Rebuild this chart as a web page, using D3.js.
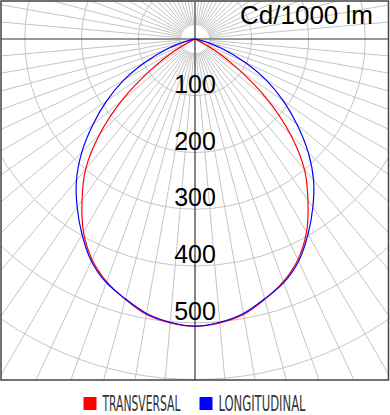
<!DOCTYPE html>
<html>
<head>
<meta charset="utf-8">
<script src="https://cdn.jsdelivr.net/npm/d3@7"></script>
<style>
  body { margin: 0; background: #fff; }
  svg { display: block; }
</style>
</head>
<body>
<div id="plot"></div>
<script>
// angles measured from the downward vertical, mirrored on both sides
const angles = [0, 5, 10, 15, 20, 25, 30, 35, 40, 45, 50, 55, 60, 65, 70, 75, 80, 85, 90];
const transversal = [506, 502, 493, 475, 455, 429, 393, 347, 300, 238, 168, 95, 40, 4, 1, 0, 0, 0, 0];
const longitudinal = [506, 501, 491, 474, 457, 432, 398, 362, 325, 282, 235, 190, 145, 97, 55, 20, 6, 2, 0];
const tickValues = [100, 200, 300, 400, 500];
const gridValues = [100, 200, 300, 400, 500, 600, 700];
const unitLabel = "Cd/1000 lm";
const seriesNames = ["TRANSVERSAL", "LONGITUDINAL"];
const seriesColors = ["#ff0000", "#0000ff"];

const W = 390, H = 415;
const frame = { left: 1, top: 1, right: 388.5, bottom: 380 };
const cx = 195, cy = 39;

const svg = d3.select("#plot")
  .append("svg")
  .attr("width", W)
  .attr("height", H);

svg.append("clipPath").attr("id", "frameClip")
  .append("rect")
  .attr("x", frame.left).attr("y", frame.top)
  .attr("width", frame.right - frame.left)
  .attr("height", frame.bottom - frame.top);

const r = d3.scaleLinear().domain([0, 600]).range([0, 340.5]);

const g = svg.append("g")
  .attr("clip-path", "url(#frameClip)")
  .append("g")
  .attr("transform", `translate(${cx},${cy})`);

// grid circles
g.selectAll(".ring").data(gridValues).enter()
  .append("circle")
  .attr("class", "ring")
  .attr("r", d => r(d))
  .attr("fill", "none")
  .attr("stroke", "#c4c4c4")
  .attr("stroke-width", 1);

// radial spokes every 5 degrees
const spokes = d3.range(0, 360, 5).filter(a => a % 90 !== 0);
g.selectAll(".spoke").data(spokes).enter()
  .append("line")
  .attr("class", "spoke")
  .attr("x1", a => 14 * Math.sin(a * Math.PI / 180))
  .attr("y1", a => 14 * Math.cos(a * Math.PI / 180))
  .attr("x2", a => r(800) * Math.sin(a * Math.PI / 180))
  .attr("y2", a => r(800) * Math.cos(a * Math.PI / 180))
  .attr("stroke", "#c4c4c4")
  .attr("stroke-width", 1);

// main axes
g.append("line")
  .attr("x1", -cx).attr("x2", W - cx).attr("y1", 0).attr("y2", 0)
  .attr("stroke", "#333").attr("stroke-width", 1.2);
g.append("line")
  .attr("x1", 0).attr("x2", 0).attr("y1", -cy).attr("y2", H)
  .attr("stroke", "#333").attr("stroke-width", 1.2);

// ring labels
g.selectAll(".tick").data(tickValues).enter()
  .append("text")
  .attr("class", "tick")
  .attr("x", 0)
  .attr("y", d => r(d) - 3)
  .attr("text-anchor", "middle")
  .attr("font-family", "Liberation Sans, Arial, sans-serif")
  .attr("font-size", 25)
  .attr("fill", "#000")
  .text(d => d);

// curves
function fullSeries(values) {
  const pts = [];
  for (let i = angles.length - 1; i > 0; i--) pts.push([-angles[i], values[i]]);
  for (let i = 0; i < angles.length; i++) pts.push([angles[i], values[i]]);
  return pts;
}

const line = d3.lineRadial()
  .angle(d => Math.PI - d[0] * Math.PI / 180)
  .radius(d => r(d[1]))
  .curve(d3.curveCatmullRom.alpha(0.5));

[transversal, longitudinal].forEach((vals, i) => {
  g.append("path")
    .attr("d", line(fullSeries(vals)))
    .attr("fill", "none")
    .attr("stroke", seriesColors[i])
    .attr("stroke-width", 1.2);
});

// frame
svg.append("rect")
  .attr("x", frame.left).attr("y", frame.top)
  .attr("width", frame.right - frame.left)
  .attr("height", frame.bottom - frame.top)
  .attr("fill", "none")
  .attr("stroke", "#444")
  .attr("stroke-width", 1.5);

// unit label
svg.append("text")
  .attr("x", 373)
  .attr("y", 24)
  .attr("text-anchor", "end")
  .attr("font-family", "Liberation Sans, Arial, sans-serif")
  .attr("font-size", 26)
  .attr("fill", "#000")
  .text(unitLabel);

// legend (text squeezed horizontally to match the narrow legend font)
const legendX = [83.5, 199.5];
const legendW = [78, 87];
const legend = svg.selectAll(".legend").data(seriesNames).enter()
  .append("g")
  .attr("class", "legend")
  .attr("transform", (d, i) => `translate(${legendX[i]},397)`);

legend.append("rect")
  .attr("width", 13).attr("height", 13)
  .attr("fill", (d, i) => seriesColors[i]);

legend.append("text")
  .attr("font-family", "DejaVu Sans Condensed, DejaVu Sans, sans-serif")
  .attr("font-size", 20.5)
  .attr("fill", "#333")
  .text(d => d)
  .attr("transform", function (d, i) {
    const k = legendW[i] / this.getComputedTextLength();
    return `translate(19,14) scale(${k},1)`;
  });
</script>
</body>
</html>
